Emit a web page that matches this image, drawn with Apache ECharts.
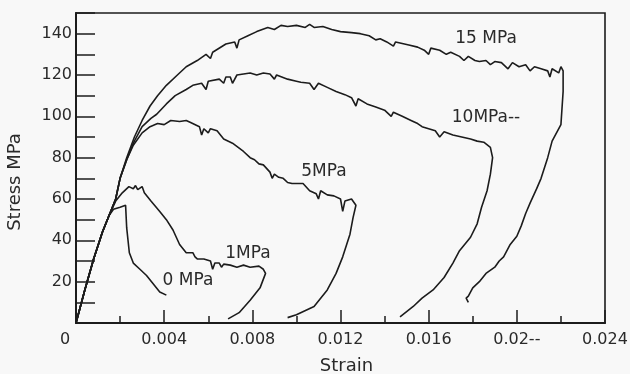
<!DOCTYPE html>
<html>
<head>
<meta charset="utf-8">
<script src="https://cdn.jsdelivr.net/npm/echarts@6/dist/echarts.min.js"></script>
<style>
html,body{margin:0;padding:0;background:#f8f8f8;}
#c{width:630px;height:374px;}
</style>
</head>
<body>
<div id="c"></div>
<script>
// Strain (x) / Stress MPa (y) pairs
var curve0 = [[0,0],[0.0004,16],[0.0008,31],[0.0012,44],[0.0015,52],[0.0017,55],[0.0020,56],[0.00225,57],[0.0023,46],[0.00242,34],[0.0026,29],[0.0029,26],[0.0032,23],[0.0035,19],[0.0038,15],[0.0041,13.5]];
var curve1 = [[0,0],[0.0004,16],[0.0008,31],[0.0012,44],[0.0015,52],[0.0018,59],[0.0021,63],[0.0024,66],[0.0026,65],[0.0027,66.5],[0.0028,64.5],[0.0030,66],[0.0031,63],[0.0034,59],[0.0038,54],[0.0041,50],[0.0044,45],[0.0047,38],[0.0050,34],[0.0053,34],[0.0054,32],[0.0055,31],[0.0058,31],[0.0061,30],[0.0062,26],[0.0063,29],[0.0065,29],[0.0066,27],[0.0067,28.5],[0.0070,28],[0.0073,27],[0.0076,28],[0.0079,27],[0.0083,27.5],[0.0085,26],[0.0086,24],[0.00835,17],[0.0079,11],[0.0074,5],[0.0069,2]];
var curve5 = [[0,0],[0.0004,16],[0.0008,31],[0.0012,44],[0.0015,52],[0.0018,60],[0.0020,70],[0.0023,79],[0.0026,86],[0.0030,92],[0.00336,95],[0.0037,96.5],[0.0040,96],[0.0043,98],[0.0047,97.5],[0.0050,98],[0.0052,97],[0.0056,95],[0.0057,91],[0.0058,94],[0.0060,92],[0.0061,94],[0.0064,93],[0.0067,89],[0.0071,87],[0.0076,83],[0.0079,80],[0.0081,79],[0.0083,77],[0.0085,76.5],[0.0088,73],[0.0089,70],[0.0090,72],[0.0092,70.5],[0.0094,70],[0.0096,68],[0.0098,67.5],[0.0103,67.5],[0.0106,64],[0.0109,62.5],[0.0110,60],[0.0111,64],[0.0114,62],[0.0117,61.5],[0.0120,60],[0.0121,54],[0.0122,59],[0.0125,60],[0.0127,57],[0.01257,51],[0.01243,43],[0.0121,32],[0.0118,24],[0.0114,16],[0.0108,8],[0.0100,4],[0.0096,2.6]];
var curve10 = [[0,0],[0.0004,16],[0.0008,31],[0.0012,44],[0.0015,52],[0.0018,60],[0.0020,70],[0.0023,79],[0.0026,87],[0.0030,95],[0.0034,99],[0.00366,101],[0.0041,106],[0.0045,110],[0.0050,113],[0.0053,115],[0.0057,116],[0.0059,113],[0.0060,117],[0.0065,118],[0.0067,116],[0.0068,119],[0.0070,119],[0.0071,116],[0.0073,120],[0.0076,120.5],[0.0079,121],[0.0082,120],[0.0085,121],[0.0088,120.5],[0.0090,118],[0.0091,120],[0.0096,118],[0.0100,117],[0.0102,116.5],[0.0106,116],[0.0108,113],[0.0110,116],[0.0114,114],[0.0118,112],[0.0122,110.5],[0.0125,109],[0.0127,105],[0.0128,108.5],[0.0132,106],[0.0136,104.5],[0.0140,103],[0.0143,100],[0.0144,102],[0.0148,100],[0.0152,98],[0.0155,96.5],[0.0157,95],[0.0160,94],[0.0163,93],[0.0165,90],[0.0167,92.5],[0.0171,91],[0.0175,90],[0.0179,89],[0.0182,88],[0.0185,87.5],[0.0188,85],[0.0189,80],[0.0188,72],[0.01865,64],[0.0184,56],[0.0182,48],[0.0179,41.5],[0.0174,35],[0.0171,29],[0.0167,22],[0.0162,16],[0.0157,12],[0.0153,8],[0.0147,3]];
var curve15 = [[0,0],[0.0004,16],[0.0008,31],[0.0012,44],[0.0015,52],[0.0018,60],[0.0020,70],[0.0023,80],[0.00265,90],[0.0030,98],[0.00336,105],[0.0037,110],[0.0041,115],[0.0046,120],[0.0050,124],[0.0055,127],[0.0059,130],[0.0061,128],[0.0062,131],[0.0068,135],[0.0072,136],[0.0073,133],[0.0074,137],[0.0078,139],[0.0082,141],[0.0087,143],[0.0090,142],[0.0093,144],[0.0096,143.5],[0.0100,144],[0.0104,143],[0.0106,144.5],[0.0108,143],[0.0112,143.5],[0.0116,142],[0.0120,141],[0.0125,140.5],[0.0129,140],[0.0133,139],[0.0136,137],[0.0138,137.5],[0.0141,136],[0.0144,134],[0.0145,136],[0.0147,135.5],[0.0151,134.5],[0.0155,133.5],[0.0158,132],[0.0160,130],[0.0161,133],[0.0165,132],[0.0168,130],[0.0170,131],[0.0174,129],[0.0176,127],[0.0178,129],[0.0181,127],[0.0183,126.5],[0.0186,127],[0.0188,125],[0.0190,126.5],[0.0193,126],[0.0196,123],[0.0198,126],[0.0201,124],[0.0204,125],[0.0206,122],[0.0208,124],[0.0211,123],[0.0214,122],[0.0215,119],[0.0216,123],[0.0219,121],[0.0220,124],[0.0221,122],[0.0221,112],[0.0220,96],[0.0216,88],[0.0214,80],[0.0211,70],[0.0209,65],[0.0206,58],[0.0204,53],[0.0202,47],[0.0200,42],[0.0197,38],[0.0194,32],[0.0192,30],[0.0190,27],[0.0186,24],[0.0183,20],[0.0180,17],[0.0178,13],[0.0177,12],[0.0178,10]];

var seriesNames = ['0 MPa','1 MPa','5 MPa','10 MPa','15 MPa'];
var curveLabels = ['0 MPa','1MPa','5MPa','10MPa--','15 MPa'];
var xTickLabels = ['0','0.004','0.008','0.012','0.016','0.02--','0.024'];
var yTickLabels = ['20','40','60','80','100','120','140'];

var FONT = 'DejaVu Sans';
var INK = '#1c1c1c';
var TXT = '#2a2a2a';
var chart = echarts.init(document.getElementById('c'), null, {renderer:'canvas'});
var curves = [curve0, curve1, curve5, curve10, curve15];

var labelPos = [[188,281],[248,254],[324,172],[486,118],[486,39]];

chart.setOption({
  backgroundColor:'#f8f8f8',
  animation:false,
  grid:{left:76,right:25,top:13,bottom:51,containLabel:false,outerBoundsMode:'none',
    show:true,borderColor:INK,borderWidth:1.6,backgroundColor:'transparent'},
  xAxis:{
    type:'value',min:0,max:0.024,interval:0.004,
    name:'Strain',nameLocation:'middle',nameGap:34,
    nameTextStyle:{fontFamily:FONT,fontSize:18,color:TXT,padding:[0,0,0,12]},
    axisLine:{show:true,lineStyle:{color:INK,width:2}},
    axisTick:{show:true,inside:true,length:13,lineStyle:{color:INK,width:1.5}},
    minorTick:{show:true,splitNumber:2,length:7,lineStyle:{color:INK,width:1.5}},
    splitLine:{show:false},
    axisLabel:{
      fontFamily:FONT,fontSize:16,color:TXT,margin:9,showMaxLabel:true,
      formatter:function(v){var i=Math.round(v/0.004);var s=xTickLabels[i]||'';return i===0?'{z|'+s+'}':s;},
      rich:{z:{fontFamily:FONT,fontSize:16,color:TXT,padding:[0,22,0,0]}}
    }
  },
  yAxis:{
    type:'value',min:0,max:150,interval:10,
    name:'Stress MPa',nameLocation:'middle',nameGap:52,nameRotate:90,
    nameTextStyle:{fontFamily:FONT,fontSize:18,color:TXT,padding:[0,28,0,0]},
    axisLine:{show:true,lineStyle:{color:INK,width:2}},
    axisTick:{show:true,inside:true,length:19,lineStyle:{color:INK,width:1.5}},
    splitLine:{show:false},
    axisLabel:{
      fontFamily:FONT,fontSize:16,color:TXT,margin:4,
      formatter:function(v){var i=Math.round(v/20)-1;return (v%20===0&&i>=0&&i<yTickLabels.length)?yTickLabels[i]:'';}
    }
  },
  series:curves.map(function(d,i){
    return {name:seriesNames[i],type:'line',data:d,showSymbol:false,symbol:'none',
      lineStyle:{color:INK,width:1.6},z:3};
  }),
  graphic:curveLabels.map(function(t,i){
    return {type:'text',x:labelPos[i][0],y:labelPos[i][1],
      style:{text:t,fontFamily:FONT,fontSize:17,fill:TXT,textAlign:'center',textVerticalAlign:'middle'}};
  })
});
</script>
</body>
</html>
